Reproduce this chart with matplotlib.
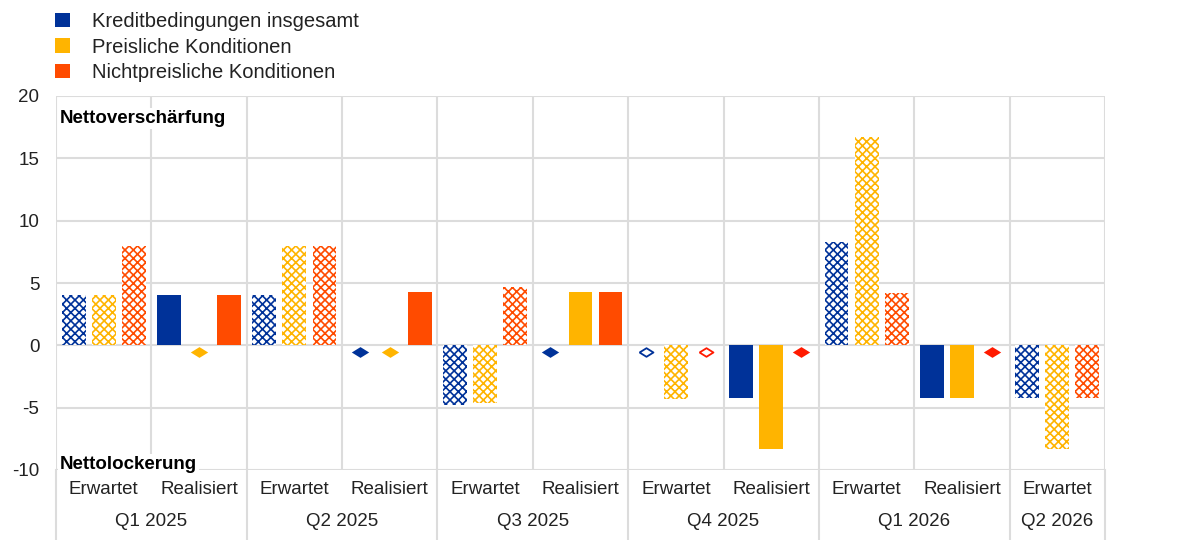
import matplotlib
matplotlib.use("Agg")
import matplotlib.pyplot as plt
import matplotlib.transforms as mtransforms
from matplotlib.patches import Patch
from matplotlib.lines import Line2D
import numpy as np

plt.rcParams['font.family'] = ['Liberation Sans', 'DejaVu Sans']
plt.rcParams['hatch.linewidth'] = 1.2
plt.rcParams['axes.unicode_minus'] = False

# Survey rounds and the two bars within each one
periods = ['Q1 2025', 'Q2 2025', 'Q3 2025', 'Q4 2025', 'Q1 2026', 'Q2 2026']
period_sizes = [2, 2, 2, 2, 2, 1]
slot_labels = ['Erwartet', 'Realisiert'] * 5 + ['Erwartet']
expected = [True, False] * 5 + [True]

series_names = ['Kreditbedingungen insgesamt', 'Preisliche Konditionen',
                'Nichtpreisliche Konditionen']
overall = [4.0, 4.0, 4.0, 0.0, -4.8, 0.0, 0.0, -4.2, 8.3, -4.2, -4.2]
price = [4.0, 0.0, 8.0, 0.0, -4.6, 4.3, -4.3, -8.3, 16.7, -4.2, -8.3]
nonprice = [8.0, 4.0, 8.0, 4.3, 4.7, 4.3, 0.0, 0.0, 4.2, 0.0, -4.2]
series = [overall, price, nonprice]

bar_colors = ['#003299', '#FFB400', '#FF4B00']
marker_colors = ['#003299', '#FFB400', '#FF1A00']
grid_color = '#dcdcdc'
text_color = '#222222'
label_size = 13.5

fig = plt.figure(figsize=(11.96, 5.40), dpi=100)
ax = fig.add_axes([56 / 1196, 70 / 540, 1049 / 1196, 374 / 540])

n = len(slot_labels)
x = np.arange(n)
width = 0.25
offsets = [-0.315, 0.0, 0.315]

# flattened diamond used for zero values
diamond = [(-1, 0), (0, 0.62), (1, 0), (0, -0.62), (-1, 0)]
below = mtransforms.offset_copy(ax.transData, fig=fig, y=-7, units='dots')

for vals, off, bc, mc in zip(series, offsets, bar_colors, marker_colors):
    for xi, v, exp in zip(x, vals, expected):
        if v == 0:
            if exp:
                ax.plot(xi + off, 0, marker=diamond, ms=10, mfc='white',
                        mec=mc, mew=1.3, transform=below, zorder=4,
                        clip_on=False)
            else:
                ax.plot(xi + off, 0, marker=diamond, ms=12.5, mfc=mc,
                        mec=mc, mew=0, transform=below, zorder=4,
                        clip_on=False)
            continue
        if exp:
            ax.bar(xi + off, v, width=width, facecolor='white', edgecolor=bc,
                   hatch='xxxx', linewidth=0, zorder=3)
        else:
            ax.bar(xi + off, v, width=width, color=bc, linewidth=0, zorder=3)

ax.set_xlim(-0.5, n - 0.5)
ax.set_ylim(-10, 20)
ax.set_yticks([-10, -5, 0, 5, 10, 15, 20])
ax.set_xticks(np.arange(-0.5, n, 1.0))
ax.set_xticklabels([])
ax.tick_params(axis='both', length=0)
ax.tick_params(axis='y', pad=12, labelsize=label_size, labelcolor=text_color)
ax.grid(True, color=grid_color, linewidth=1.5, zorder=0)
ax.set_axisbelow(True)
for s in ax.spines.values():
    s.set_visible(False)

# region labels
ytr = mtransforms.blended_transform_factory(ax.transAxes, ax.transData)
ax.text(0.004, 18.2, 'Nettoverschärfung', fontsize=label_size,
        fontweight='bold', color='black', va='center', ha='left',
        transform=ytr, zorder=5,
        bbox=dict(facecolor='white', edgecolor='none', pad=1.5))
ax.text(0.004, -9.55, 'Nettolockerung', fontsize=label_size,
        fontweight='bold', color='black', va='center', ha='left',
        transform=ytr, zorder=5, clip_on=False,
        bbox=dict(facecolor='white', edgecolor='none', pad=1.5))

# two-level category axis
tr = mtransforms.blended_transform_factory(ax.transData, fig.transFigure)
for xi, lab in zip(x, slot_labels):
    ax.text(xi, 1 - 490 / 540, lab, transform=tr, ha='center', va='center',
            fontsize=label_size, color=text_color)
start = 0
bounds = [-0.5]
for per, size in zip(periods, period_sizes):
    centre = start + (size - 1) / 2
    ax.text(centre, 1 - 521 / 540, per, transform=tr, ha='center',
            va='center', fontsize=label_size, color=text_color)
    start += size
    bounds.append(start - 0.5)
for b in bounds:
    ax.add_line(Line2D([b, b], [0, 70 / 540], transform=tr, color=grid_color,
                       linewidth=1.5, clip_on=False))

handles = [Patch(facecolor=c, edgecolor='none') for c in bar_colors]
fig.legend(handles, series_names, loc='upper left',
           bbox_to_anchor=(37 / 1196, 1 + 6 / 540), frameon=False,
           fontsize=14.5, handlelength=0.75, handleheight=0.75,
           handletextpad=1.1, labelspacing=0.32, labelcolor=text_color)

fig.savefig('out.png', dpi=100)
